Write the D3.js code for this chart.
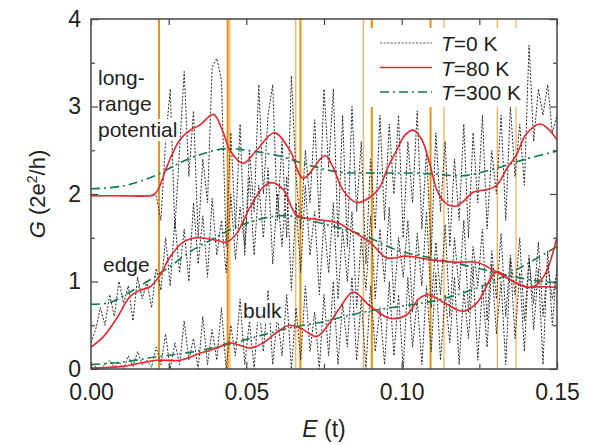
<!DOCTYPE html>
<html lang="en">
<head>
<meta charset="UTF-8">
<title>Conductance vs energy</title>
<script src="https://d3js.org/d3.v7.min.js"></script>
<style>
  body { margin: 0; background: #fff; }
  svg text { font-family: "Liberation Sans", Arial, sans-serif; fill: #231f20; }
</style>
</head>
<body>
<div id="chart"></div>
<script>
// energy grid of the T=0 K traces (step 0.0015 t)
const E0 = d3.range(101).map(i => +(i * 0.0015).toFixed(4));

// T = 0 K
const longT0 = [1.98,1.98,1.98,1.98,1.98,1.98,1.98,1.98,1.98,1.98,1.98,1.98,1.98,1.98,1.98,
  1.7,2.6,3.2,1.6,2.5,3.4,2.2,2.95,1.5,2.4,1.9,3.45,3.55,3.3,1.4,2.7,1.6,2.8,1.3,2.5,1.8,3.25,2.0,2.9,3.25,
  1.7,2.6,1.5,3.35,2.2,1.6,2.5,1.9,2.85,1.7,3.2,2.3,3.2,1.5,2.9,1.4,3.0,1.8,2.6,1.2,
  2.4,1.6,2.9,1.7,2.8,2.0,2.9,1.5,2.6,1.9,2.95,1.6,2.5,1.3,2.7,1.8,2.6,1.4,2.4,1.7,
  2.8,1.5,2.7,1.9,2.9,1.6,2.5,2.0,2.9,1.7,3.0,2.2,2.8,2.1,3.7,2.6,3.2,2.9,3.25,2.7,2.9];
const edgeT0 = [0.30,0.45,0.70,0.50,0.85,0.60,1.00,0.75,0.95,0.55,1.05,0.80,1.00,0.70,1.15,
  0.90,1.50,0.95,1.70,1.10,1.60,1.00,1.90,1.20,1.75,1.05,1.95,1.30,1.70,1.10,2.00,1.25,1.85,1.40,2.20,
  1.30,2.10,1.50,2.30,1.20,2.00,1.40,2.20,0.90,1.90,1.10,2.10,1.30,1.80,0.85,1.70,1.10,1.90,0.80,1.60,
  1.00,1.80,0.70,1.50,0.90,1.75,0.80,1.60,1.00,1.85,0.75,1.50,1.05,1.70,0.65,1.55,0.95,1.80,0.70,1.45,
  0.85,1.65,0.60,1.50,0.90,1.70,0.65,1.40,0.95,1.60,0.55,1.35,0.80,1.55,0.60,1.30,0.85,1.50,0.55,1.25,
  0.75,1.45,0.60,1.20,0.80,1.10];
const bulkT0 = [0.00,0.03,0.00,0.05,0.10,0.02,0.08,0.00,0.15,0.03,0.20,0.05,0.10,0.02,0.25,
  0.05,0.40,0.00,0.30,0.05,0.55,0.10,0.35,0.00,0.60,0.05,0.45,0.10,0.70,0.00,0.50,0.15,0.80,0.05,0.55,
  0.00,0.75,0.20,0.90,0.05,0.60,0.15,0.85,0.00,0.70,0.10,0.95,0.20,0.65,0.00,0.85,0.15,1.00,0.05,0.75,
  0.25,1.05,0.10,0.80,0.00,0.95,0.20,0.70,0.05,1.00,0.15,0.85,0.00,1.05,0.25,0.80,0.05,0.95,0.20,1.10,
  0.10,0.85,0.30,1.05,0.05,0.90,0.35,1.15,0.10,0.95,0.25,1.20,0.40,1.00,0.05,1.25,0.35,1.10,0.20,1.30,
  0.45,1.15,0.05,1.35,0.50,1.20];

// T = 80 K  [E, G]
const longT80 = [[0,1.98],[0.01,1.98],[0.019,1.98],[0.0205,2.0],[0.022,2.08],[0.0244,2.31],[0.0286,2.62],
  [0.0319,2.73],[0.0351,2.79],[0.0394,2.91],[0.0426,2.70],[0.0447,2.50],[0.049,2.35],[0.0533,2.50],
  [0.059,2.70],[0.064,2.50],[0.0683,2.18],[0.0753,2.44],[0.078,2.30],[0.081,2.05],[0.0856,1.90],
  [0.090,1.97],[0.093,2.08],[0.0955,2.30],[0.0984,2.50],[0.101,2.67],[0.1037,2.73],[0.1065,2.62],
  [0.109,2.35],[0.1113,2.05],[0.114,1.90],[0.117,1.86],[0.120,1.92],[0.123,2.02],[0.1274,2.05],
  [0.1306,2.10],[0.134,2.30],[0.137,2.45],[0.140,2.68],[0.1445,2.80],[0.147,2.75],[0.15,2.62]];
const edgeT80 = [[0,0.25],[0.004,0.37],[0.0083,0.58],[0.0126,0.83],[0.0158,0.90],[0.019,0.94],
  [0.0222,1.07],[0.0254,1.28],[0.0297,1.45],[0.034,1.50],[0.0405,1.47],[0.0437,1.45],[0.0469,1.55],
  [0.0512,1.85],[0.0555,2.08],[0.0582,2.13],[0.0619,2.05],[0.0662,1.76],[0.0726,1.71],[0.0769,1.69],
  [0.0801,1.66],[0.0834,1.59],[0.0898,1.45],[0.0952,1.27],[0.1016,1.29],[0.1091,1.25],[0.1177,1.22],
  [0.1241,1.22],[0.1295,1.13],[0.1349,1.02],[0.1402,0.94],[0.1456,0.94],[0.15,0.93]];
const bulkT80 = [[0,0.01],[0.0104,0.03],[0.0211,0.10],[0.0286,0.10],[0.0351,0.18],[0.0405,0.24],
  [0.0447,0.30],[0.0512,0.24],[0.0555,0.30],[0.0598,0.42],[0.064,0.50],[0.0683,0.45],[0.0726,0.37],
  [0.0769,0.53],[0.0801,0.70],[0.0844,0.88],[0.0898,0.72],[0.0962,0.58],[0.1016,0.62],[0.1055,0.80],
  [0.1085,0.85],[0.1145,0.74],[0.1198,0.66],[0.1241,0.75],[0.1306,1.11],[0.1349,1.02],[0.1413,0.93],
  [0.1456,1.05],[0.15,1.51]];

// T = 300 K  [E, G]
const longT300 = [[0,2.06],[0.01,2.09],[0.02,2.2],[0.03,2.38],[0.04,2.50],[0.045,2.52],[0.05,2.50],
  [0.06,2.44],[0.07,2.33],[0.08,2.25],[0.09,2.24],[0.10,2.24],[0.11,2.23],[0.12,2.21],[0.13,2.29],
  [0.14,2.40],[0.15,2.49]];
const edgeT300 = [[0,0.74],[0.0061,0.76],[0.0126,0.88],[0.019,1.02],[0.0254,1.17],[0.0319,1.34],
  [0.0383,1.47],[0.0447,1.59],[0.0512,1.68],[0.0598,1.75],[0.0662,1.74],[0.0726,1.68],[0.0801,1.61],
  [0.0877,1.53],[0.0984,1.36],[0.1091,1.27],[0.1198,1.19],[0.1306,1.10],[0.1413,1.02],[0.15,0.98]];
const bulkT300 = [[0,0.05],[0.0104,0.08],[0.0211,0.14],[0.0319,0.19],[0.0426,0.27],[0.0533,0.37],
  [0.064,0.47],[0.0748,0.54],[0.0769,0.56],[0.0877,0.65],[0.0984,0.71],[0.1091,0.77],[0.1198,0.87],
  [0.1306,1.02],[0.1413,1.22],[0.15,1.40]];

// vertical orange markers
const strongLines = [0.0219, 0.0440, 0.0674, 0.0904, 0.1093];
const faintLines = [0.0447, 0.0659, 0.0877, 0.1136, 0.1308, 0.1368];

const xTicks = [0, 0.05, 0.10, 0.15];
const xMinor = [0.025, 0.075, 0.125];
const yTicks = [0, 1, 2, 3, 4];
const yMinor = [0.5, 1.5, 2.5, 3.5];

const W = 591, H = 445;
const margin = {top: 19, right: 34, bottom: 76, left: 91};
const width = W - margin.left - margin.right,
      height = H - margin.top - margin.bottom;

const svg = d3.select("#chart").append("svg")
    .attr("width", W).attr("height", H);
const g = svg.append("g").attr("transform", `translate(${margin.left},${margin.top})`);

const x = d3.scaleLinear().domain([0, 0.15]).range([0, width]);
const y = d3.scaleLinear().domain([0, 4]).range([height, 0]);

g.append("clipPath").attr("id", "clip")
  .append("rect").attr("width", width).attr("height", height);
const plot = g.append("g").attr("clip-path", "url(#clip)");

// orange markers
plot.selectAll(".vs").data(strongLines).join("line")
    .attr("x1", d => x(d)).attr("x2", d => x(d))
    .attr("y1", 0).attr("y2", height)
    .attr("stroke", "#f39200").attr("stroke-width", 2);
plot.selectAll(".vf").data(faintLines).join("line")
    .attr("x1", d => x(d)).attr("x2", d => x(d))
    .attr("y1", 0).attr("y2", height)
    .attr("stroke", "#f9b25a").attr("stroke-width", 1.3);

// T=0 K traces
const lin = d3.line().x((d, i) => x(E0[i])).y(d => y(d));
[longT0, edgeT0, bulkT0].forEach(s => {
  plot.append("path").datum(s)
      .attr("fill", "none").attr("stroke", "#2b2b2b")
      .attr("stroke-width", 1).attr("stroke-dasharray", "2,1.6")
      .attr("d", lin);
});

const smooth = d3.line().x(d => x(d[0])).y(d => y(d[1])).curve(d3.curveCatmullRom.alpha(0.5));
[longT300, edgeT300, bulkT300].forEach(s => {
  plot.append("path").datum(s)
      .attr("fill", "none").attr("stroke", "#0f7a4a")
      .attr("stroke-width", 1.6).attr("stroke-dasharray", "9,4,2,4")
      .attr("d", smooth);
});
[longT80, edgeT80, bulkT80].forEach(s => {
  plot.append("path").datum(s)
      .attr("fill", "none").attr("stroke", "#e8262d")
      .attr("stroke-width", 1.6)
      .attr("d", smooth);
});

// region labels with white backing
function label(lines, lx, ly, lh) {
  const grp = g.append("g");
  lines.forEach((t, i) => {
    const bg = grp.append("rect").attr("fill", "#fff");
    const tx = grp.append("text").attr("x", lx).attr("y", ly + i * lh)
        .style("font-size", "21px").text(t);
    const b = tx.node().getBBox();
    bg.attr("x", b.x - 1).attr("y", b.y + 1).attr("width", b.width + 2).attr("height", b.height - 1);
  });
}
label(["long-", "range", "potential"], 98 - margin.left, 85 - margin.top, 26);
label(["edge"], 103 - margin.left, 272 - margin.top, 26);
label(["bulk"], 243 - margin.left, 318 - margin.top, 26);

// legend
const leg = g.append("g");
leg.append("rect").attr("x", 366 - margin.left).attr("y", 28 - margin.top)
   .attr("width", 160).attr("height", 79).attr("fill", "#fff");
const legItems = [
  {t: "=0 K", stroke: "#555", dash: "2,1.6", w: 1},
  {t: "=80 K", stroke: "#e8262d", dash: null, w: 1.6},
  {t: "=300 K", stroke: "#0f7a4a", dash: "9,4,2,4", w: 1.6}
];
legItems.forEach((d, i) => {
  const yy = 43 + i * 24.5 - margin.top;
  leg.append("line").attr("x1", 380 - margin.left).attr("x2", 432 - margin.left)
     .attr("y1", yy).attr("y2", yy)
     .attr("stroke", d.stroke).attr("stroke-width", d.w)
     .attr("stroke-dasharray", d.dash);
  const tx = leg.append("text").attr("x", 441 - margin.left).attr("y", yy + 8)
     .style("font-size", "21px");
  tx.append("tspan").style("font-style", "italic").text("T");
  tx.append("tspan").text(d.t);
});

// axes: ticks inside on all four sides
function axisStyle(sel) {
  sel.select(".domain").remove();
  sel.selectAll(".tick line").attr("stroke", "#444").attr("stroke-width", 1.2);
  sel.selectAll("text").style("font-size", "23px").attr("fill", "#231f20");
}
g.append("g").attr("transform", `translate(0,${height})`)
  .call(d3.axisBottom(x).tickValues(xTicks).tickSize(-7).tickPadding(15).tickFormat(d3.format(".2f")))
  .call(axisStyle);
g.append("g").attr("transform", `translate(0,${height})`)
  .call(d3.axisBottom(x).tickValues(xMinor).tickSize(-5).tickFormat(""))
  .call(axisStyle);
g.append("g")
  .call(d3.axisTop(x).tickValues(xTicks.concat(xMinor)).tickSize(-6).tickFormat(""))
  .call(axisStyle);
g.append("g")
  .call(d3.axisLeft(y).tickValues(yTicks).tickSize(-7).tickPadding(10).tickFormat(d3.format("d")))
  .call(axisStyle);
g.append("g")
  .call(d3.axisLeft(y).tickValues(yMinor).tickSize(-4).tickFormat(""))
  .call(axisStyle);
g.append("g").attr("transform", `translate(${width},0)`)
  .call(d3.axisRight(y).tickValues(yTicks).tickSize(-7).tickFormat(""))
  .call(axisStyle);
g.append("g").attr("transform", `translate(${width},0)`)
  .call(d3.axisRight(y).tickValues(yMinor).tickSize(-4).tickFormat(""))
  .call(axisStyle);

// frame
g.append("rect").attr("width", width).attr("height", height)
  .attr("fill", "none").attr("stroke", "#444").attr("stroke-width", 1.5);

// axis titles
const xt = svg.append("text").attr("x", margin.left + width / 2).attr("y", 437)
  .attr("text-anchor", "middle").style("font-size", "23px");
xt.append("tspan").style("font-style", "italic").text("E");
xt.append("tspan").text(" (t)");

const yt = svg.append("text")
  .attr("transform", `translate(45,${margin.top + height / 2}) rotate(-90)`)
  .attr("text-anchor", "middle").style("font-size", "22px");
yt.append("tspan").style("font-style", "italic").text("G");
yt.append("tspan").text(" (2e");
yt.append("tspan").attr("dy", -8).style("font-size", "14px").text("2");
yt.append("tspan").attr("dy", 8).text("/h)");
</script>
</body>
</html>
